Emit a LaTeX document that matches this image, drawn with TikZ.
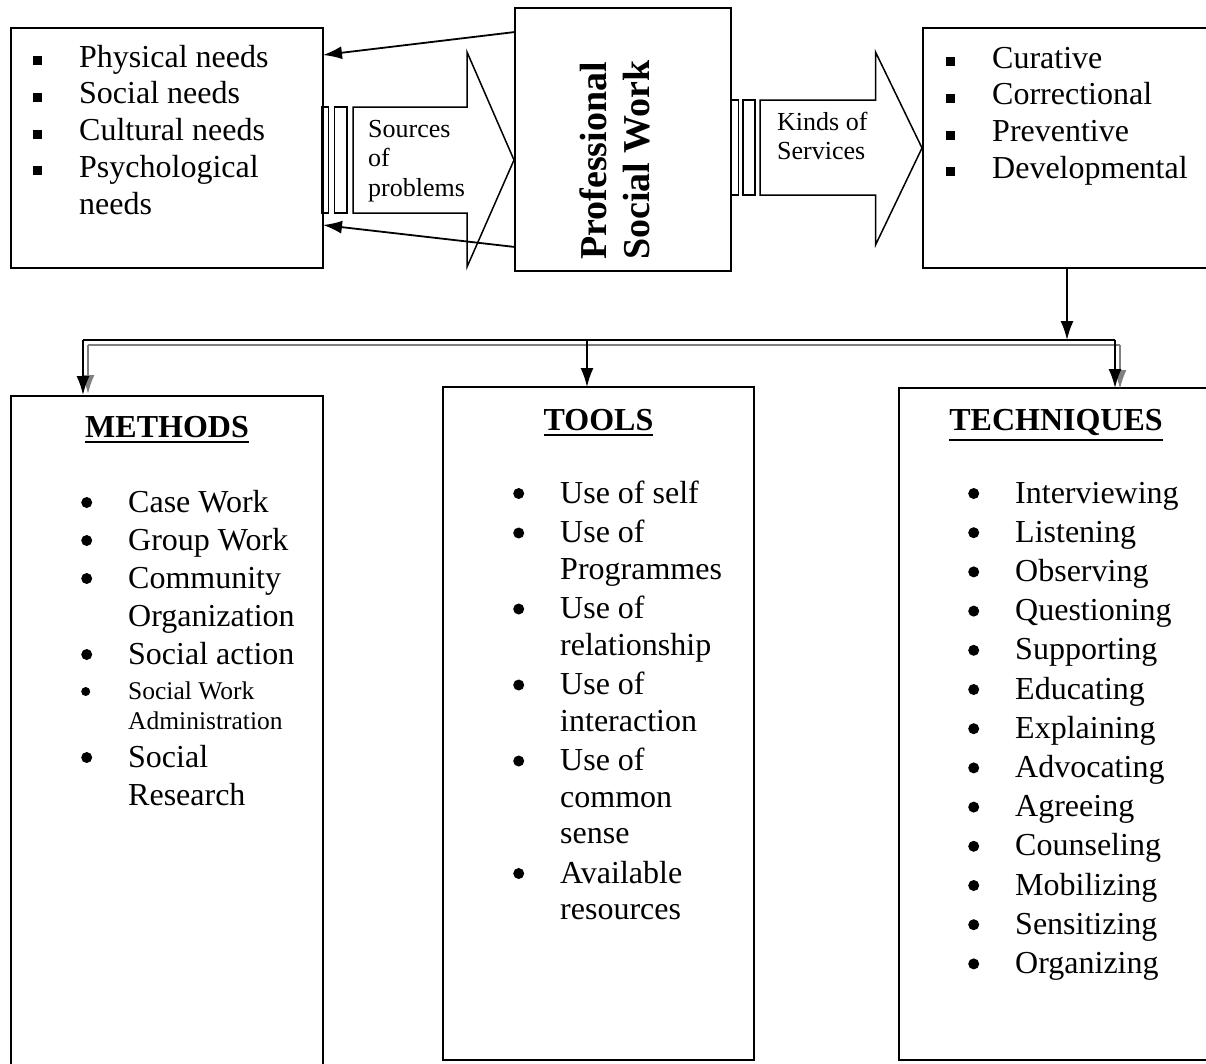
\documentclass[tikz,border=0pt]{standalone}
\usepackage{fontspec}
\setmainfont{Liberation Serif}
\usepackage{tikz}
\usetikzlibrary{arrows.meta}
\tikzstyle{box} = [rectangle, draw, line width=1.8pt, inner sep=0pt, outer sep=0pt, anchor=north west]
\tikzstyle{line} = [draw, line width=1.8pt, -{Latex[length=19pt,width=13pt]}]
\tikzstyle{shadowline} = [draw=gray, line width=1.8pt, -{Latex[length=19pt,width=13pt]}]
\tikzstyle{blockarrow} = [draw, line width=1.5pt]
\tikzstyle{list} = [inner sep=0pt, anchor=base west, font=\fontsize{32}{36.8}\selectfont]
\tikzstyle{head} = [inner sep=0pt, anchor=base, font=\bfseries\fontsize{32}{36}\selectfont]
\tikzstyle{arrowtext} = [inner sep=0pt, anchor=base west, font=\fontsize{26}{29.8}\selectfont]
\newcommand{\sqb}{\rule[2pt]{9pt}{9pt}}
\newcommand{\rdb}{\tikz[baseline=-9.5pt]\fill (0,0) circle (5.5pt);}
\newcommand{\rdbs}{\tikz[baseline=-7.5pt]\fill (0,0) circle (4.5pt);}
\newcommand{\headul}[1]{\leavevmode\vtop{\hbox{#1}\kern3.5pt\hrule height 2.5pt}}

\begin{document}
\begin{tikzpicture}[x=1pt, y=-1pt]
\useasboundingbox (0,0) rectangle (1206,1063);
% top row
\node [box, minimum width=312pt, minimum height=240pt] (needs) at (11,28) {};
\node [box, minimum width=216pt, minimum height=263pt] (pro) at (515,8) {};
\node [box, minimum width=292pt, minimum height=240pt] (serv) at (923,28) {};
\node [list] (needlist) at (33,67) {\begin{tabular}[t]{@{}p{46pt}@{}l@{}}
\sqb & Physical needs\\ \sqb & Social needs\\ \sqb & Cultural needs\\ \sqb & Psychological\\ & needs
\end{tabular}};
\node [list] (servlist) at (946,68) {\begin{tabular}[t]{@{}p{46pt}@{}l@{}}
\sqb & Curative\\ \sqb & Correctional\\ \sqb & Preventive\\ \sqb & Developmental
\end{tabular}};
\node [rotate=90, inner sep=0pt, anchor=base west, font=\bfseries\fontsize{38}{43}\selectfont] (protext) at (606,260)
  {\begin{tabular}[t]{@{}l@{}}Professional\\Social Work\end{tabular}};

% striped block arrows
\draw [blockarrow] (322,107) rectangle (328.5,213);
\draw [blockarrow] (334.5,107) rectangle (347,213);
\draw [blockarrow] (353,107) -- (467,107) -- (467,52) -- (514,160) -- (467,267) -- (467,213) -- (353,213) -- cycle;
\node [arrowtext] (sources) at (368,137) {\begin{tabular}[t]{@{}l@{}}Sources\\of\\problems\end{tabular}};
\draw [blockarrow] (731,100) rectangle (738.5,195);
\draw [blockarrow] (743,100) rectangle (755,195);
\draw [blockarrow] (760,100) -- (875.5,100) -- (875.5,52) -- (922,148) -- (875.5,245) -- (875.5,195) -- (760,195) -- cycle;
\node [arrowtext] (kinds) at (777,130) {\begin{tabular}[t]{@{}l@{}}Kinds of\\Services\end{tabular}};

\path [line] (pro.west |- 0,32) -- (needs.east |- 0,55);
\path [line] (pro.west |- 0,247) -- (needs.east |- 0,225);

% bottom row
\node [box, minimum width=312pt, minimum height=685pt] (methods) at (11,396) {};
\node [box, minimum width=311pt, minimum height=673pt] (tools) at (443,387) {};
\node [box, minimum width=316pt, minimum height=672pt] (tech) at (899,388) {};

\coordinate (split) at (1067,340);
\coordinate (busL) at (83,340);
\coordinate (busM) at (587,340);
\coordinate (busR) at (1115,340);
\coordinate (shL) at (88,345);
\coordinate (shR) at (1120,345);
\draw [draw=gray, line width=1.8pt] (shL) -- (shR);
\path [shadowline] (shL) -- ([yshift=2pt]methods.north -| shL);
\path [shadowline] (shR) -- ([yshift=-1pt]tech.north -| shR);
\path [line] (1067,0 |- serv.south) -- (split);
\draw [line width=1.8pt] (busL) -- (busR);
\path [line] (busL) -- ([yshift=1pt]methods.north -| busL);
\path [line] (busM) -- (tools.north -| busM);
\path [line] (busR) -- (tech.north -| busR);

\node [head] (methodshead) at (167,437) {\headul{METHODS}};
\node [head] (toolshead) at (598.5,430) {\headul{TOOLS}};
\node [head] (techhead) at (1056,430) {\headul{TECHNIQUES}};

\node [list, font=\fontsize{32}{38}\selectfont] (methodlist) at (81,512) {\begin{tabular}[t]{@{}p{47pt}@{}l@{}}
\rdb & Case Work\\ \rdb & Group Work\\ \rdb & Community\\ & Organization\\ \rdb & Social action\\[-3pt]
\rdbs & {\fontsize{25.5}{30}\selectfont Social Work}\\[-8pt] & {\fontsize{25.5}{30}\selectfont Administration}\\
\rdb & Social\\ & Research
\end{tabular}};
\node [list, font=\fontsize{32}{36.5}\selectfont] (toollist) at (513,503) {\begin{tabular}[t]{@{}p{47pt}@{}l@{}}
\rdb & Use of self\\[3pt] \rdb & Use of\\ & Programmes\\[3pt] \rdb & Use of\\ & relationship\\[3pt]
\rdb & Use of\\ & interaction\\[3pt] \rdb & Use of\\ & common\\ & sense\\[3pt] \rdb & Available\\ & resources
\end{tabular}};
\node [list, font=\fontsize{32}{39.2}\selectfont] (techlist) at (968,503) {\begin{tabular}[t]{@{}p{47pt}@{}l@{}}
\rdb & Interviewing\\ \rdb & Listening\\ \rdb & Observing\\ \rdb & Questioning\\ \rdb & Supporting\\
\rdb & Educating\\ \rdb & Explaining\\ \rdb & Advocating\\ \rdb & Agreeing\\ \rdb & Counseling\\
\rdb & Mobilizing\\ \rdb & Sensitizing\\ \rdb & Organizing
\end{tabular}};
\end{tikzpicture}
\end{document}
